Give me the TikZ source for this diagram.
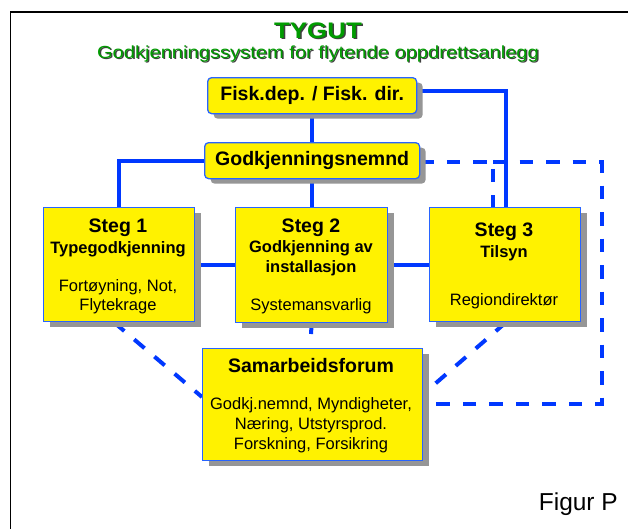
\documentclass[tikz,border=0pt]{standalone}
\usepackage{fontspec}
\setmainfont{Liberation Sans}
\newfontfamily\widefont[FakeStretch=1.15]{Liberation Sans}
\usetikzlibrary{shadows,backgrounds}
\definecolor{lineblue}{RGB}{0,56,255}
\definecolor{boxblue}{RGB}{40,100,255}
\definecolor{shadowgray}{RGB}{150,150,150}
\definecolor{titlegreen}{RGB}{0,155,0}
\begin{document}
\begin{tikzpicture}[x=1pt,y=-1pt,
  conn/.style={draw=lineblue, line width=4pt},
  dconn/.style={draw=lineblue, line width=4pt, dash pattern=on 13.5pt off 13pt},
  box/.style={draw=boxblue, line width=1.3pt, fill=yellow, inner sep=0pt, anchor=north west,
    drop shadow={shadow xshift=6pt, shadow yshift=-5pt, fill=shadowgray, opacity=1}},
  rbox/.style={box, rounded corners=4pt, font=\fontsize{19.5}{22}\selectfont\bfseries},
  hd/.style={font=\fontsize{19.5}{22}\selectfont\bfseries, anchor=base, inner sep=0pt},
  sub/.style={font=\fontsize{16.5}{19}\selectfont\bfseries, anchor=base, inner sep=0pt},
  txt/.style={font=\fontsize{16.5}{19}\selectfont, anchor=base, inner sep=0pt},
  ttl/.style={anchor=base, inner sep=0pt, text=titlegreen},
  ttlsh/.style={anchor=base, inner sep=0pt, text=black!75}]
\useasboundingbox (0,0) rectangle (628,528);
% frame
\draw[line width=1.7pt] (10.5,535) -- (10.5,12) -- (635,12);
% title
\node[ttlsh, font=\widefont\fontsize{22.5}{26}\selectfont\bfseries] (tsh) at (319.5,39.5) {TYGUT};
\node[ttl, font=\widefont\fontsize{22.5}{26}\selectfont\bfseries] (title) at (318,38) {TYGUT};
\node[ttlsh, font=\widefont\fontsize{17.5}{20}\selectfont] (ssh) at (319.2,59.2) {Godkjenningssystem for flytende oppdrettsanlegg};
\node[ttl, font=\widefont\fontsize{17.5}{20}\selectfont] (subtitle) at (318,58) {Godkjenningssystem for flytende oppdrettsanlegg};
% boxes
\node[rbox, minimum width=209pt, minimum height=36pt] (fisk) at (207,77) {Fisk.dep. / Fisk. dir.};
\node[rbox, minimum width=215pt, minimum height=36pt] (godk) at (204,142) {Godkjenningsnemnd};
\node[box, minimum width=151pt, minimum height=114pt] (s1) at (43,207) {};
\node[box, minimum width=152pt, minimum height=115pt] (s2) at (235,207) {};
\node[box, minimum width=151pt, minimum height=114pt] (s3) at (429,207) {};
\node[box, minimum width=220pt, minimum height=112pt] (sam) at (202,348) {};
% texts
\node[hd] (s1a) at (118,232) {Steg 1};
\node[sub] (s1b) at (118,253) {Typegodkjenning};
\node[txt] (s1c) at (118,291) {Fortøyning, Not,};
\node[txt] (s1d) at (118,310) {Flytekrage};
\node[hd] (s2a) at (311,232) {Steg 2};
\node[sub] (s2b) at (311,252) {Godkjenning av};
\node[sub] (s2c) at (311,272) {installasjon};
\node[txt] (s2d) at (311,310) {Systemansvarlig};
\node[hd] (s3a) at (504,236) {Steg 3};
\node[sub] (s3b) at (504,257) {Tilsyn};
\node[txt] (s3c) at (504,305) {Regiondirektør};
\node[hd] (sama) at (311,372) {Samarbeidsforum};
\node[txt] (samb) at (311,409) {Godkj.nemnd, Myndigheter,};
\node[txt] (samc) at (311,429) {Næring, Utstyrsprod.};
\node[txt] (samd) at (311,449) {Forskning, Forsikring};
\node[anchor=base east, inner sep=0pt, font=\fontsize{24.5}{28}\selectfont] (fig) at (618,510) {Figur P};
% connectors
\coordinate (fr) at (506,91);
\coordinate (s2end) at (311,334);
\coordinate (dr1) at (602,162);
\coordinate (dr2) at (602,404);
\coordinate (dm) at (493,162);
\coordinate (d1) at (114,321);
\coordinate (d2) at (202,397);
\coordinate (d3) at (506,321);
\coordinate (d4) at (422,394);
\begin{pgfonlayer}{background}
\fill[white] (0,0) rectangle (628,528);
\draw[conn] (fisk.south) -- (godk.north);
\draw[conn] (godk.south) -- (godk.south |- s2.north);
\draw[conn] (godk.west) -| (s1.north);
\draw[conn] (fisk.east |- fr) -- (fr) -- (fr |- s3.north);
\draw[conn] (s1.east) -- (s2.west |- s1.east);
\draw[conn] (s2.east) -- (s3.west |- s2.east);
\draw[conn] (s2.south) -- (s2end);
\draw[dconn] (godk.east |- dr1) -- (dm) -- (dm |- s3.north);
\draw[dconn] (dm) -- (dr1) -- (dr2) -- (sam.east |- dr2);
\draw[dconn] (d1 |- s1.south) -- (sam.west |- d2);
\draw[dconn] (d3 |- s3.south) -- (sam.east |- d4);
\end{pgfonlayer}
\end{tikzpicture}
\end{document}
